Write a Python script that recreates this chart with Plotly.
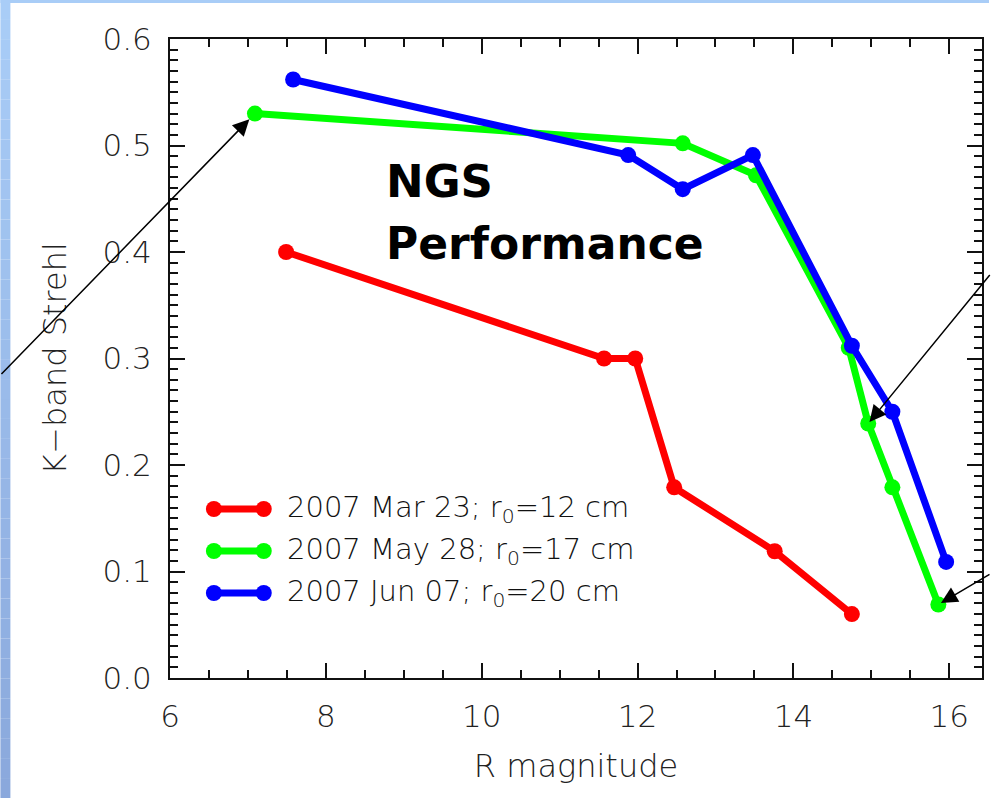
import plotly.graph_objects as go

# ---- data ----
red_x = [7.49, 11.57, 11.97, 12.47, 13.76, 14.75]
red_y = [0.400, 0.300, 0.300, 0.179, 0.119, 0.060]
green_x = [7.09, 12.58, 13.52, 14.71, 14.96, 15.27, 15.86]
green_y = [0.530, 0.502, 0.472, 0.310, 0.239, 0.179, 0.069]
blue_x = [7.58, 11.88, 12.58, 13.48, 14.75, 15.27, 15.96]
blue_y = [0.562, 0.491, 0.459, 0.491, 0.312, 0.250, 0.109]
series_names = ["2007 Mar 23; r<sub>0</sub>=12 cm",
                "2007 May 28; r<sub>0</sub>=17 cm",
                "2007 Jun 07; r<sub>0</sub>=20 cm"]
series_colors = ["#ff0000", "#00ff00", "#0000ff"]
x_ticks = [6, 8, 10, 12, 14, 16]
y_ticks = [0.0, 0.1, 0.2, 0.3, 0.4, 0.5, 0.6]
y_tick_text = ["0.0", "0.1", "0.2", "0.3", "0.4", "0.5", "0.6"]
x_range = [6, 16.42]
y_range = [0, 0.6]

W, H = 991, 798
L, R, T, B = 170, 7, 39, 120
PW, PH = W - L - R, H - T - B

def px(x):
    return (x - L) / PW

def py(y):
    return (H - B - y) / PH

fig = go.Figure()
for xs, ys, c, n in [(red_x, red_y, series_colors[0], series_names[0]),
                     (green_x, green_y, series_colors[1], series_names[1]),
                     (blue_x, blue_y, series_colors[2], series_names[2])]:
    fig.add_trace(go.Scatter(x=xs, y=ys, mode="lines+markers", name=n,
                             line=dict(color=c, width=7),
                             marker=dict(color=c, size=16, symbol="circle"),
                             showlegend=False))
# invisible copy on the top/right axes so that they get drawn with minor ticks
fig.add_trace(go.Scatter(x=red_x, y=red_y, xaxis="x2", yaxis="y2", mode="lines",
                         line=dict(color="rgba(0,0,0,0)", width=1),
                         showlegend=False, hoverinfo="skip"))

shapes = []
# left gradient strip and top strip (slide background)
top_c = (169, 205, 247)
bot_c = (138, 168, 220)
N = 40
for i in range(N):
    t = i / (N - 1)
    c = tuple(int(round(top_c[k] + (bot_c[k] - top_c[k]) * t)) for k in range(3))
    shapes.append(dict(type="rect", xref="paper", yref="paper",
                       x0=px(0), x1=px(10), y0=py(H * i / N), y1=py(H * (i + 1) / N),
                       fillcolor="rgb(%d,%d,%d)" % c, line=dict(width=0), layer="below"))
shapes.append(dict(type="rect", xref="paper", yref="paper",
                   x0=px(0), x1=px(W), y0=py(0), y1=py(3),
                   fillcolor="rgb(169,205,247)", line=dict(width=0), layer="below"))

annotations = []
# manual legend
leg_y = [509, 551, 593]
for i in range(3):
    yy = py(leg_y[i])
    shapes.append(dict(type="line", xref="paper", yref="paper",
                       x0=px(213), x1=px(265), y0=yy, y1=yy,
                       line=dict(color=series_colors[i], width=7)))
    for xe in (214, 264):
        shapes.append(dict(type="circle", xref="paper", yref="paper",
                           xsizemode="pixel", ysizemode="pixel",
                           xanchor=px(xe), yanchor=yy,
                           x0=-8, x1=8, y0=-8, y1=8,
                           fillcolor=series_colors[i], line=dict(width=0)))
    annotations.append(dict(xref="paper", yref="paper", x=px(285), y=yy,
                            xanchor="left", yanchor="middle", showarrow=False,
                            text=series_names[i],
                            font=dict(family="DejaVu Sans", size=29, color="#111",
                                      weight=300)))

# big label
annotations.append(dict(xref="paper", yref="paper", x=px(385), y=py(181),
                        xanchor="left", yanchor="middle", showarrow=False,
                        text="<b>NGS</b>",
                        font=dict(family="DejaVu Sans", size=45, color="#000")))
annotations.append(dict(xref="paper", yref="paper", x=px(385), y=py(244),
                        xanchor="left", yanchor="middle", showarrow=False,
                        text="<b>Performance</b>",
                        font=dict(family="DejaVu Sans", size=44, color="#000")))

# arrows pointing at green points
arrow_specs = [(0, -275, 262, 8), (4, 141, -150, 2), (6, 60, -31, 3)]
for idx, ax, ay, so in arrow_specs:
    annotations.append(dict(xref="x", yref="y", x=green_x[idx], y=green_y[idx],
                            ax=ax, ay=ay, text="", showarrow=True,
                            arrowhead=2, arrowsize=2.2, arrowwidth=1.5,
                            arrowcolor="#000", standoff=so))

tick_font = dict(family="DejaVu Sans", size=31, color="#222", weight=300)
title_font = dict(family="DejaVu Sans", size=32, color="#222", weight=300)
common = dict(ticks="inside", ticklen=15, tickwidth=2, tickcolor="#111",
              showline=True, linecolor="#111", linewidth=2, showgrid=False,
              zeroline=False, mirror="allticks")
fig.update_layout(
    width=W, height=H,
    margin=dict(l=L, r=R, t=T, b=B),
    paper_bgcolor="white", plot_bgcolor="white",
    shapes=shapes, annotations=annotations,
    xaxis=dict(range=x_range, tickvals=x_ticks, tickfont=tick_font,
               ticklabelstandoff=10,
               minor=dict(ticks="inside", ticklen=8, dtick=0.5, tickwidth=2,
                          tickcolor="#111", showgrid=False),
               title=dict(text="R magnitude", font=title_font, standoff=21),
               **common),
    yaxis=dict(range=y_range, tickvals=y_ticks, ticktext=y_tick_text,
               tickfont=tick_font, ticklabelstandoff=10,
               minor=dict(ticks="inside", ticklen=8, dtick=0.01, tickwidth=2,
                          tickcolor="#111", showgrid=False),
               title=dict(text="K\u2212band Strehl", font=title_font, standoff=26),
               **common),
    xaxis2=dict(range=x_range, tickvals=x_ticks, overlaying="x", side="top",
                anchor="y2", showticklabels=False,
                minor=dict(ticks="inside", ticklen=8, dtick=0.5, tickwidth=2,
                           tickcolor="#111", showgrid=False),
                **common),
    yaxis2=dict(range=y_range, tickvals=y_ticks, overlaying="y", side="right",
                anchor="x2", showticklabels=False,
                minor=dict(ticks="inside", ticklen=8, dtick=0.01, tickwidth=2,
                           tickcolor="#111", showgrid=False),
                **common),
)

fig.write_html("out.html", config={"displayModeBar": False},
               post_script="document.body.style.margin='0';")
